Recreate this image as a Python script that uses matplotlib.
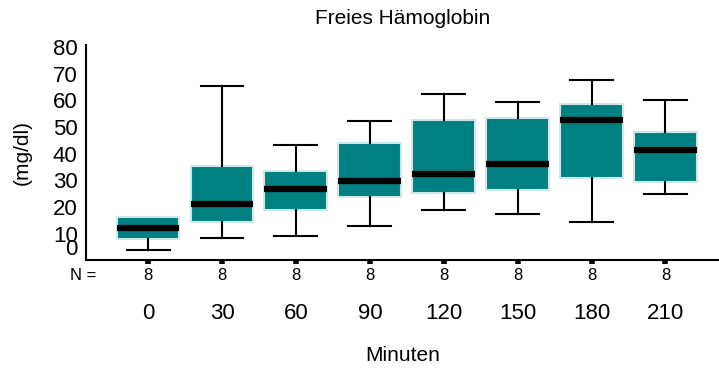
import matplotlib.pyplot as plt
from matplotlib.transforms import ScaledTranslation

plt.rcParams['font.family'] = ['Liberation Sans', 'DejaVu Sans']

minuten = ['0', '30', '60', '90', '120', '150', '180', '210']
n_werte = [8, 8, 8, 8, 8, 8, 8, 8]
whisker_unten = [3.8, 8.2, 9.0, 12.8, 18.7, 17.2, 14.2, 24.7]
q1 = [7.9, 14.2, 18.8, 23.7, 25.4, 26.3, 30.8, 29.2]
median = [12.0, 21.0, 26.7, 29.7, 32.3, 36.0, 52.6, 41.4]
q3 = [16.2, 35.3, 33.5, 44.0, 52.5, 53.3, 58.5, 48.0]
whisker_oben = [16.2, 65.4, 43.2, 52.3, 62.4, 59.4, 67.7, 60.2]

stats = []
for i in range(len(minuten)):
  stats.append({'whislo': whisker_unten[i], 'q1': q1[i], 'med': median[i],
                'q3': q3[i], 'whishi': whisker_oben[i], 'fliers': []})

fig = plt.figure(figsize=(7.19, 3.70), dpi=100)
ax = fig.add_axes([0.1196, 0.297, 0.880, 0.581])

pos = list(range(len(minuten)))
bp = ax.bxp(stats, positions=pos, widths=0.85, patch_artist=True, showfliers=False,
            boxprops=dict(facecolor='#008080', edgecolor='#cde8e8', linewidth=1.5),
            medianprops=dict(color='black', linewidth=4.5, solid_capstyle='butt'),
            whiskerprops=dict(color='black', linewidth=1.5),
            capprops=dict(color='black', linewidth=1.5),
            capwidths=0.58)
# kein oberer Whisker, wo er mit der Box zusammenfällt
for i in range(len(minuten)):
  if whisker_oben[i] <= q3[i]:
    bp['caps'][2*i+1].set_visible(False)

ax.set_xlim(-0.84, 7.72)
ax.set_ylim(0, 80.8)
ax.spines['top'].set_visible(False)
ax.spines['right'].set_visible(False)
ax.spines['left'].set_linewidth(1.5)
ax.spines['bottom'].set_linewidth(1.5)

ax.set_yticks(range(0, 81, 10))
ax.set_yticklabels([str(v) for v in range(0, 81, 10)], fontsize=16)
ax.tick_params(axis='y', length=0, pad=6)
# die "0" sitzt etwas höher
lab0 = ax.get_yticklabels()[0]
lab0.set_transform(lab0.get_transform() + ScaledTranslation(0, 13/100, fig.dpi_scale_trans))

ax.set_xticks(pos)
ax.set_xticklabels(minuten, fontsize=16)
ax.tick_params(axis='x', length=3, width=4, pad=28)

for i in range(len(minuten)):
  ax.text(pos[i], -0.07, str(n_werte[i]), transform=ax.get_xaxis_transform(),
          ha='center', va='center', fontsize=12)
ax.text(-1.06, -0.07, 'N =', transform=ax.get_xaxis_transform(),
        ha='left', va='center', fontsize=12)

ax.set_ylabel('(mg/dl)', fontsize=15, labelpad=15)
ax.set_xlabel('Minuten', fontsize=15, labelpad=16)
ax.set_title('Freies Hämoglobin', fontsize=15, pad=15)

fig.savefig('out.png', dpi=100)
